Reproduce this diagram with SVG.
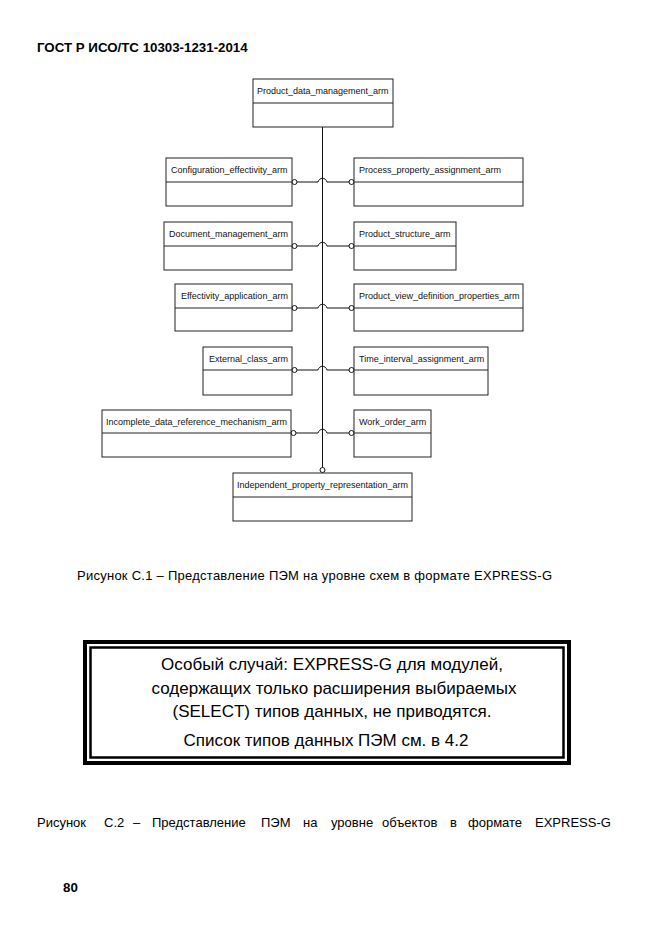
<svg xmlns="http://www.w3.org/2000/svg" width="661" height="935" viewBox="0 0 661 935">
<style>
.bg{fill:#fff}
.box{fill:#fff;stroke:#222;stroke-width:1}
.div{stroke:#222;stroke-width:1;fill:none}
.lbl{font-family:"Liberation Sans",Arial,sans-serif;font-size:9px;fill:#111}
.con{fill:none;stroke:#111;stroke-width:1}
.circ{fill:#fff;stroke:#111;stroke-width:1}
.hdr{font-family:"Liberation Sans",Arial,sans-serif;font-size:13.3px;font-weight:bold;fill:#000}
.cap{font-family:"Liberation Sans",Arial,sans-serif;font-size:13px;fill:#000}
.note{font-family:"Liberation Sans",Arial,sans-serif;font-size:17px;fill:#000;text-anchor:middle}
</style>
<rect class="bg" x="0" y="0" width="661" height="935"/>
<text class="hdr" x="37" y="52">ГОСТ Р ИСО/ТС 10303-1231-2014</text>

<g id="connectors">
<path class="con" d="M322.5,127 V467.5" stroke-width="1.2"/>
<circle class="circ" cx="322.5" cy="470" r="2.5"/>
<path class="con" d="M297,182 H318 C319.5,177 325.5,177 327,182 H349"/>
<circle class="circ" cx="294.5" cy="182" r="2.5"/><circle class="circ" cx="351.5" cy="182" r="2.5"/>
<path class="con" d="M297,246 H318 C319.5,241 325.5,241 327,246 H349"/>
<circle class="circ" cx="294.5" cy="246" r="2.5"/><circle class="circ" cx="351.5" cy="246" r="2.5"/>
<path class="con" d="M297,308 H318 C319.5,303 325.5,303 327,308 H349"/>
<circle class="circ" cx="294.5" cy="308" r="2.5"/><circle class="circ" cx="351.5" cy="308" r="2.5"/>
<path class="con" d="M297,370 H318 C319.5,365 325.5,365 327,370 H349"/>
<circle class="circ" cx="294.5" cy="370" r="2.5"/><circle class="circ" cx="351.5" cy="370" r="2.5"/>
<path class="con" d="M296,433 H318 C319.5,428 325.5,428 327,433 H349"/>
<circle class="circ" cx="293.5" cy="433" r="2.5"/><circle class="circ" cx="351.5" cy="433" r="2.5"/>
</g>

<g id="n_pdm"><rect class="box" x="253" y="79" width="140" height="48"/><path class="div" d="M253,103 H393"/><text class="lbl" x="257" y="94">Product_data_management_arm</text></g>
<g id="n_cfg"><rect class="box" x="166" y="158" width="126" height="48"/><path class="div" d="M166,182 H292"/><text class="lbl" x="171" y="173">Configuration_effectivity_arm</text></g>
<g id="n_doc"><rect class="box" x="164" y="222" width="128" height="48"/><path class="div" d="M164,246 H292"/><text class="lbl" x="169" y="237">Document_management_arm</text></g>
<g id="n_eff"><rect class="box" x="175" y="284" width="117" height="47"/><path class="div" d="M175,308 H292"/><text class="lbl" x="181" y="299">Effectivity_application_arm</text></g>
<g id="n_ext"><rect class="box" x="203" y="347" width="89" height="48"/><path class="div" d="M203,370 H292"/><text class="lbl" x="209" y="362">External_class_arm</text></g>
<g id="n_inc"><rect class="box" x="102" y="410" width="189" height="47"/><path class="div" d="M102,433 H291"/><text class="lbl" x="106" y="425">Incomplete_data_reference_mechanism_arm</text></g>
<g id="n_ppa"><rect class="box" x="354" y="158" width="169" height="48"/><path class="div" d="M354,182 H523"/><text class="lbl" x="359" y="173">Process_property_assignment_arm</text></g>
<g id="n_pst"><rect class="box" x="354" y="222" width="102" height="48"/><path class="div" d="M354,246 H456"/><text class="lbl" x="359" y="237">Product_structure_arm</text></g>
<g id="n_pvd"><rect class="box" x="354" y="284" width="169" height="47"/><path class="div" d="M354,308 H523"/><text class="lbl" x="359" y="299">Product_view_definition_properties_arm</text></g>
<g id="n_tia"><rect class="box" x="354" y="347" width="134" height="48"/><path class="div" d="M354,370 H488"/><text class="lbl" x="359" y="362">Time_interval_assignment_arm</text></g>
<g id="n_wo"><rect class="box" x="354" y="410" width="77" height="47"/><path class="div" d="M354,433 H431"/><text class="lbl" x="359" y="425">Work_order_arm</text></g>
<g id="n_ipr"><rect class="box" x="233" y="473" width="179" height="48"/><path class="div" d="M233,497 H412"/><text class="lbl" x="237" y="488">Independent_property_representation_arm</text></g>

<text class="cap" x="77" y="580" textLength="475" lengthAdjust="spacing">Рисунок С.1 –  Представление ПЭМ на уровне схем в формате EXPRESS-G</text>

<g id="notebox">
<rect x="85" y="642" width="484" height="121" fill="#fff" stroke="#000" stroke-width="4"/>
<rect x="90.5" y="647.5" width="473" height="110" fill="none" stroke="#000" stroke-width="2.5"/>
<text class="note" x="332" y="670">Особый случай: EXPRESS-G для модулей,</text>
<text class="note" x="334" y="694">содержащих только расширения выбираемых</text>
<text class="note" x="332" y="717">(SELECT) типов данных, не приводятся.</text>
<text class="note" x="326" y="746">Список типов данных ПЭМ см. в 4.2</text>
</g>

<text class="cap" y="827" font-size="13.5px"><tspan x="37">Рисунок</tspan><tspan x="104">С.2</tspan><tspan x="133">–</tspan><tspan x="152">Представление</tspan><tspan x="261">ПЭМ</tspan><tspan x="303">на</tspan><tspan x="331">уровне</tspan><tspan x="382">объектов</tspan><tspan x="450">в</tspan><tspan x="468">формате</tspan><tspan x="535">EXPRESS-G</tspan></text>

<text class="hdr" x="63" y="892">80</text>
</svg>
